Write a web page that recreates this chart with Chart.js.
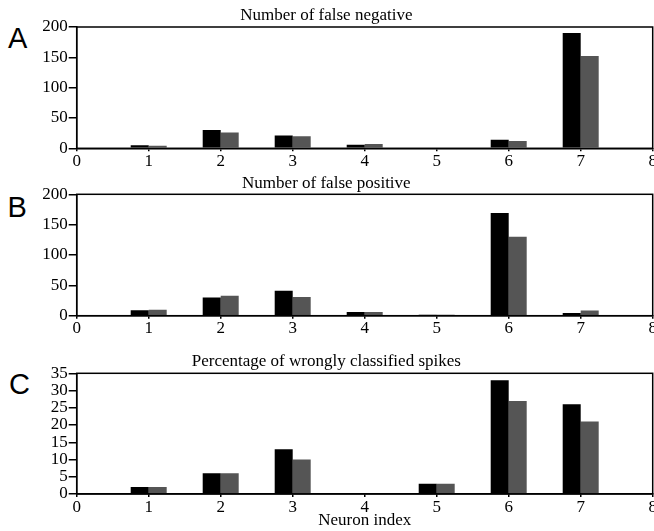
<!DOCTYPE html>
<html>
<head>
<meta charset="utf-8">
<script src="https://cdn.jsdelivr.net/npm/chart.js@4/dist/chart.umd.min.js"></script>
<style>
  html, body { margin: 0; padding: 0; background: #fff; }
  body { width: 654px; height: 531px; position: relative; overflow: hidden; }
  canvas { position: absolute; left: 0; }
  .lbl { position: absolute; font-family: 'Liberation Sans', Arial, sans-serif; font-size: 29px; line-height: 29px; color: #000; }
</style>
</head>
<body>
<div class="lbl" style="left:8px; top:23.5px;">A</div>
<div class="lbl" style="left:7.5px; top:192.5px;">B</div>
<div class="lbl" style="left:9px; top:370px;">C</div>
<canvas id="cA" width="654" height="175" style="top:0px"></canvas>
<canvas id="cB" width="654" height="172" style="top:170px"></canvas>
<canvas id="cC" width="654" height="191" style="top:340px"></canvas>
<script>
// ---- data ----
const neurons = [1, 2, 3, 4, 5, 6, 7];
const xTicks = [0, 1, 2, 3, 4, 5, 6, 7, 8];
const falseNegBlack = [5, 30, 21, 6, 0, 14, 190];
const falseNegGray  = [4, 26, 20, 7, 0, 12, 152];
const falsePosBlack = [9, 30, 41, 6, 1.5, 169, 4.5];
const falsePosGray  = [10, 33, 31, 6, 1.5, 130, 8.5];
const pctBlack = [2, 6, 13, 0.3, 3, 33, 26];
const pctGray  = [2, 6, 10, 0.2, 3, 27, 21];
const titles = ['Number of false negative', 'Number of false positive', 'Percentage of wrongly classified spikes'];
const xAxisTitle = 'Neuron index';

Chart.defaults.font.family = "'Liberation Serif', 'Times New Roman', serif";
Chart.defaults.font.size = 17;
Chart.defaults.color = '#000';

const boxPlugin = {
  id: 'box',
  afterDatasetsDraw(chart) {
    const a = chart.chartArea, ctx = chart.ctx;
    ctx.save();
    ctx.strokeStyle = '#000';
    ctx.lineWidth = 1.5;
    ctx.strokeRect(a.left, a.top, a.right - a.left, a.bottom - a.top);
    ctx.restore();
  }
};

function toPts(vals) { return neurons.map((n, i) => ({ x: n, y: vals[i] })); }

function makePanel(id, title, black, gray, yMax, yStep, titlePad, xHeight, showXTitle) {
  return new Chart(document.getElementById(id), {
    type: 'bar',
    data: {
      datasets: [
        { data: toPts(black), backgroundColor: '#000', borderWidth: 0, categoryPercentage: 0.5, barPercentage: 1.0 },
        { data: toPts(gray), backgroundColor: '#555555', borderWidth: 0, categoryPercentage: 0.5, barPercentage: 1.0 }
      ]
    },
    options: {
      responsive: false,
      maintainAspectRatio: false,
      animation: false,
      layout: { padding: { left: 0, right: 1.3, top: 0, bottom: 0 } },
      plugins: {
        legend: { display: false },
        tooltip: { enabled: false },
        title: {
          display: true, text: title, color: '#000',
          font: { size: 17, weight: 'normal', lineHeight: 1.2 },
          padding: titlePad
        }
      },
      scales: {
        x: {
          type: 'linear', min: 0, max: 8, offset: false,
          afterBuildTicks(s) { s.ticks = xTicks.map(v => ({ value: v })); },
          afterFit(s) { s.height = xHeight; s.paddingLeft = 0; s.paddingRight = 0; },
          ticks: { stepSize: 1, padding: 0, maxRotation: 0, autoSkip: false, color: '#000' },
          grid: { display: true, drawOnChartArea: false, offset: false, color: '#000', lineWidth: 1.5, tickLength: 3 },
          border: { display: true, color: '#000', width: 1.5 },
          title: { display: showXTitle, text: xAxisTitle, color: '#000', font: { size: 17 }, padding: { top: 0, bottom: 0 } }
        },
        y: {
          min: 0, max: yMax,
          afterFit(s) { s.width = 76.7; s.paddingTop = 0; s.paddingBottom = 0; },
          ticks: { stepSize: yStep, padding: 1, autoSkip: false, color: '#000' },
          grid: { display: true, drawOnChartArea: false, color: '#000', lineWidth: 1.5, tickLength: 8 },
          border: { display: true, color: '#000', width: 1.5 }
        }
      }
    },
    plugins: [boxPlugin]
  });
}

makePanel('cA', titles[0], falseNegBlack, falseNegGray, 200, 50, { top: 5.1, bottom: 1.5 }, 26.7, false);
makePanel('cB', titles[1], falsePosBlack, falsePosGray, 200, 50, { top: 3.1, bottom: 0.8 }, 26.3, false);
makePanel('cC', titles[2], pctBlack, pctGray, 35, 5, { top: 11.1, bottom: 1.8 }, 37, true);
</script>
</body>
</html>
